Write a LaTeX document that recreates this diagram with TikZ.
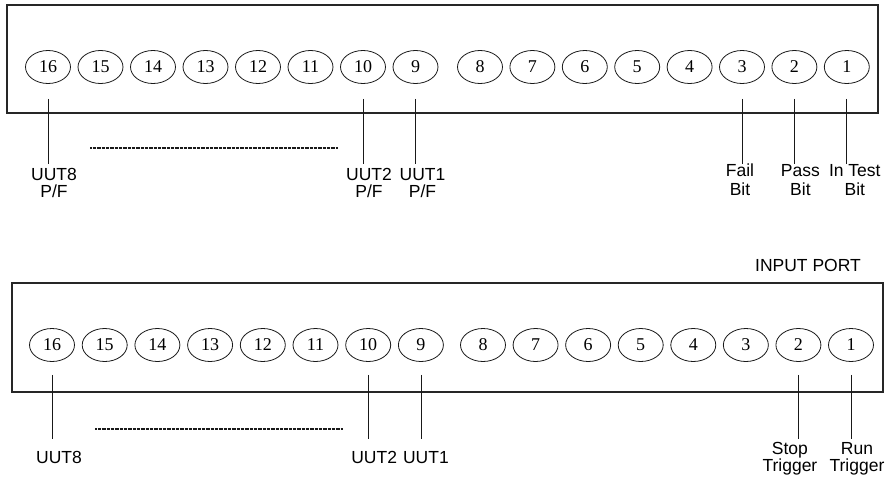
\documentclass[tikz,border=0pt]{standalone}
\usepackage{fontspec}
\setmainfont{Liberation Serif}
\newfontfamily\labelfont{Liberation Sans}
\usetikzlibrary{positioning,shapes.geometric}
\tikzset{
  port/.style={draw=black!85,line width=1.1pt},
  pin/.style={ellipse,draw=black!90,line width=.8pt,minimum width=45pt,minimum height=33pt,
    inner sep=0pt,font=\fontsize{18}{18}\selectfont},
  wire/.style={draw=black!90,line width=.8pt},
  dots/.style={draw=black!90,line width=1.1pt,dash pattern=on .8pt off .5pt},
  lbl/.style={align=center,inner sep=0pt,font=\labelfont\fontsize{17.5}{17}\selectfont}
}

\begin{document}
\begin{tikzpicture}[x=1pt,y=-1pt]
  \useasboundingbox (0,0) rectangle (891,477);
  % output port
  \draw[port] (7,5) rectangle (878,113);
  \foreach \n in {1,...,16}{
    \pgfmathsetmacro\px{\n>8 ? 48+(16-\n)*52.5 : 480+(8-\n)*52.4}
    \node[pin] (t\n) at (\px,67) {\n};
  }
  \foreach \n in {16,10,9,3,2,1}{
    \coordinate (te\n) at ([yshift=-80pt]t\n.south);
    \draw[wire] ([yshift=-15pt]t\n.south) -- (te\n);
  }
  \draw[dots] (90,148) -- (338,148);
  \node[lbl,below=4pt of te16,xshift=6pt] (l16) {UUT8\\P/F};
  \node[lbl,below=4pt of te10,xshift=6pt] (l10) {UUT2\\P/F};
  \node[lbl,below=4pt of te9,xshift=7pt] (l9) {UUT1\\P/F};
  \node[lbl,below=0pt of te3,xshift=-2pt] (l3) {Fail\\[2pt]Bit};
  \node[lbl,below=0pt of te2,xshift=6pt] (l2) {Pass\\[2pt]Bit};
  \node[lbl,below=0pt of te1,xshift=8pt] (l1) {In Test\\[2pt]Bit};

  % input port
  \node[lbl] (inport) at (808,265) {INPUT PORT};
  \draw[port] (12,283) rectangle (883,392);
  \foreach \n in {1,...,16}{
    \pgfmathsetmacro\px{\n>8 ? 52+(16-\n)*52.7 : 483+(8-\n)*52.57}
    \node[pin] (b\n) at (\px,345) {\n};
  }
  \foreach \n in {16,10,9,2,1}{
    \coordinate (be\n) at ([yshift=-77.5pt]b\n.south);
    \draw[wire] ([yshift=-13pt]b\n.south) -- (be\n);
  }
  \draw[dots] (95,429) -- (343,429);
  \node[lbl,below=12pt of be16,xshift=7pt] (m16) {UUT8};
  \node[lbl,below=12pt of be10,xshift=6pt] (m10) {UUT2};
  \node[lbl,below=12pt of be9,xshift=5pt] (m9) {UUT1};
  \node[lbl,below=3pt of be2,xshift=-8.5pt] (m2) {Stop\\Trigger};
  \node[lbl,below=3pt of be1,xshift=6pt] (m1) {Run\\Trigger};
\end{tikzpicture}
\end{document}
